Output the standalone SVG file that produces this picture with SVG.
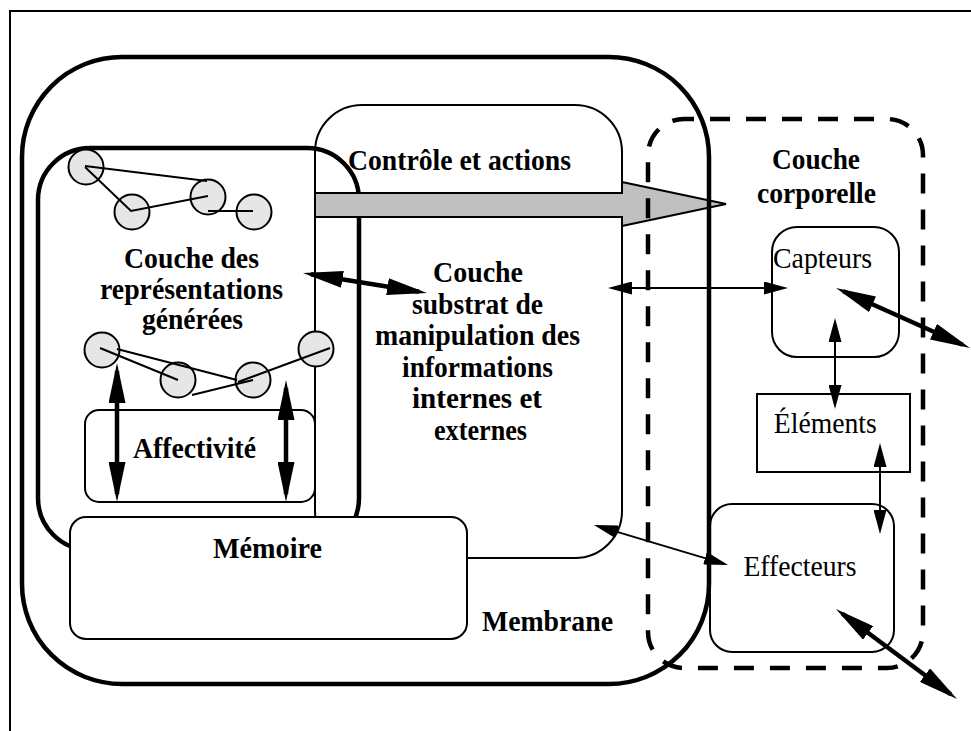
<svg xmlns="http://www.w3.org/2000/svg" width="971" height="731" viewBox="0 0 971 731">
<defs>
<style>
.ln{fill:none;stroke:#000;stroke-width:2}
.thk{fill:none;stroke:#000;stroke-width:4.5}
.node{fill:#e6e6e6;stroke:#000;stroke-width:2}
.edge{stroke:#000;stroke-width:2;fill:none}
.t{font-family:"Liberation Serif","Times New Roman",serif;font-size:30px;fill:#000;text-anchor:middle}
.b{font-weight:bold}
.ca{stroke:#000;stroke-width:2;fill:none;marker-start:url(#thin);marker-end:url(#thin)}
.cb{stroke:#000;stroke-width:4.5;fill:none;marker-start:url(#thick);marker-end:url(#thick)}
</style>
<marker id="thin" markerUnits="userSpaceOnUse" viewBox="0 0 24 13" markerWidth="24" markerHeight="13" refX="20" refY="6.5" orient="auto-start-reverse"><path d="M0,0L24,6.5L0,13z" fill="#000"/></marker>
<marker id="thick" markerUnits="userSpaceOnUse" viewBox="0 0 40 17" markerWidth="40" markerHeight="17" refX="32" refY="8.5" orient="auto-start-reverse"><path d="M0,0L40,8.5L0,17z" fill="#000"/></marker>
</defs>
<rect x="0" y="0" width="971" height="731" fill="#fff"/>
<rect id="frame" x="10" y="11" width="990" height="760" fill="none" stroke="#000" stroke-width="2"/>

<g id="controle">
<rect class="ln" x="315" y="105" width="307" height="453" rx="47"/>
</g>
<g id="representations">
<rect class="thk" x="38" y="148" width="321" height="402" rx="52"/>
</g>
<g id="affectivite">
<rect class="ln" x="85" y="410" width="230" height="92" rx="14"/>
<text class="t b" x="194.5" y="458" textLength="123" lengthAdjust="spacingAndGlyphs">Affectivité</text>
</g>
<g id="fleche-controle">
<polygon points="315,193 622,193 622,182 726,204 622,226 622,217 315,217" fill="#c0c0c0" stroke="#000" stroke-width="2"/>
</g>
<g id="membrane">
<rect class="thk" x="22" y="57" width="687" height="627" rx="100"/>
<text class="t b" x="547.5" y="631" textLength="131" lengthAdjust="spacingAndGlyphs">Membrane</text>
</g>
<g id="corporelle">
<rect x="648" y="119" width="275" height="549" rx="36" fill="none" stroke="#000" stroke-width="4.5" stroke-dasharray="20 16" stroke-dashoffset="10"/>
<text class="t b" x="816" y="169" textLength="88" lengthAdjust="spacingAndGlyphs">Couche</text>
<text class="t b" x="816.5" y="203" textLength="119" lengthAdjust="spacingAndGlyphs">corporelle</text>
</g>
<g id="memoire">
<rect x="70" y="517" width="397" height="122" rx="16" fill="#fff" stroke="#000" stroke-width="2"/>
<text class="t b" x="267.5" y="558" textLength="109" lengthAdjust="spacingAndGlyphs">Mémoire</text>
</g>
<g id="reseau-haut">
<circle class="node" cx="86" cy="167" r="17.5"/>
<circle class="node" cx="132" cy="212" r="17.5"/>
<circle class="node" cx="208" cy="197" r="17.5"/>
<circle class="node" cx="254" cy="212" r="17.5"/>
<path class="edge" d="M85,166L207,181M85,167L131,211L208,196M208,211L253,211"/>
</g>
<g id="reseau-bas">
<circle class="node" cx="102" cy="350" r="17.5"/>
<circle class="node" cx="178" cy="380" r="17.5"/>
<circle class="node" cx="253" cy="380" r="17.5"/>
<circle class="node" cx="316" cy="349" r="17.5"/>
<path class="edge" d="M100,348L178,380M117,349L237,380M192,395L253,380M238,382L330,348"/>
</g>
<g id="textes-centre">
<text class="t b" x="459.5" y="170" textLength="223" lengthAdjust="spacingAndGlyphs">Contrôle et actions</text>
<text class="t b" x="191.5" y="268" textLength="135" lengthAdjust="spacingAndGlyphs">Couche des</text>
<text class="t b" x="191.5" y="299" textLength="183" lengthAdjust="spacingAndGlyphs">représentations</text>
<text class="t b" x="192.5" y="329" textLength="101" lengthAdjust="spacingAndGlyphs">générées</text>
<text class="t b" x="478" y="282" textLength="90" lengthAdjust="spacingAndGlyphs">Couche</text>
<text class="t b" x="477.5" y="313.6" textLength="131" lengthAdjust="spacingAndGlyphs">substrat de</text>
<text class="t b" x="477.5" y="345.2" textLength="205" lengthAdjust="spacingAndGlyphs">manipulation des</text>
<text class="t b" x="477.5" y="376.8" textLength="151" lengthAdjust="spacingAndGlyphs">informations</text>
<text class="t b" x="477" y="408.4" textLength="130" lengthAdjust="spacingAndGlyphs">internes et</text>
<text class="t b" x="480.5" y="440" textLength="93" lengthAdjust="spacingAndGlyphs">externes</text>
</g>
<g id="capteurs">
<rect class="ln" x="772" y="227" width="127" height="130" rx="25"/>
<text class="t" x="822.5" y="268" textLength="99" lengthAdjust="spacingAndGlyphs">Capteurs</text>
</g>
<g id="elements">
<rect class="ln" x="757" y="394" width="153" height="78"/>
<text class="t" x="825.3" y="432.5" textLength="103" lengthAdjust="spacingAndGlyphs">Éléments</text>
</g>
<g id="effecteurs">
<rect class="ln" x="710" y="504" width="184" height="148" rx="22"/>
<text class="t" x="800" y="576" textLength="113" lengthAdjust="spacingAndGlyphs">Effecteurs</text>
</g>
<g id="connecteurs">
<path class="cb" d="M310.9,274.3L419.1,291.7"/>
<path class="cb" d="M117,371L117,494"/>
<path class="cb" d="M286,388L286,494"/>
<path class="cb" d="M843.3,291.3L962.7,344.7"/>
<path class="cb" d="M842.4,613.8L950.6,694.2"/>
<path class="ca" d="M612,288L784,288"/>
<path class="ca" d="M597.8,526.1L724.2,563.9"/>
<path class="ca" d="M835,322L835,405"/>
<path class="ca" d="M880,447L880,530"/>
</g>
</svg>
